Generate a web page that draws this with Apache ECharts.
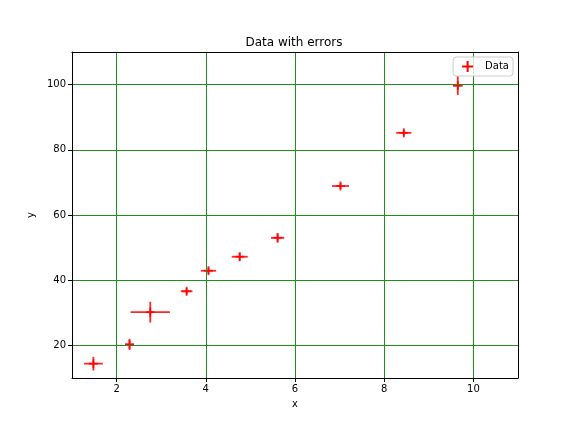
<!DOCTYPE html>
<html><head><meta charset="utf-8">
<script src="https://cdn.jsdelivr.net/npm/echarts@6/dist/echarts.min.js"></script>
<style>html,body{margin:0;padding:0;background:#fff}#c{width:576px;height:432px}</style>
</head><body><div id="c"></div>
<script>
const xValues = [1.48, 2.29, 2.755, 3.57, 4.06, 4.76, 5.61, 7.02, 8.44, 9.65];
const yValues = [14.4, 20.3, 30.2, 36.6, 42.9, 47.2, 53.0, 68.9, 85.2, 99.7];
const xErrors = [0.21, 0.10, 0.44, 0.13, 0.17, 0.18, 0.15, 0.19, 0.17, 0.11];
const yErrors = [2.1, 1.7, 3.2, 1.0, 1.0, 1.2, 1.4, 0.9, 0.9, 2.9];
const seriesName = 'Data';
const titleText = 'Data with errors';

const data = xValues.map((x, i) => [x, yValues[i], xErrors[i], yErrors[i]]);
const red = '#ff0000';
const gridGreen = '#1f8f1f';
const font = 'DejaVu Sans';

const hiddenAxis = (pos) => ({
  type: 'value', position: pos, min: pos === 'top' ? 1 : 10, max: pos === 'top' ? 11 : 110,
  axisLine: {show: true, onZero: false, lineStyle: {color: '#000', width: 1}},
  axisTick: {show: false}, axisLabel: {show: false}, splitLine: {show: false}, z: 10
});

const chart = echarts.init(document.getElementById('c'), null, {renderer: 'canvas'});
chart.setOption({
  animation: false,
  backgroundColor: '#fff',
  textStyle: {fontFamily: font},
  title: {
    text: titleText, left: 289, top: 32, textAlign: 'center',
    textStyle: {fontFamily: font, fontSize: 12, fontWeight: 'normal', color: '#000'}
  },
  legend: {
    data: [{name: seriesName, icon: 'path://M4.5,0 L6.5,0 L6.5,4.5 L11,4.5 L11,6.5 L6.5,6.5 L6.5,11 L4.5,11 L4.5,6.5 L0,6.5 L0,4.5 L4.5,4.5 Z'}],
    right: 63, top: 57, itemWidth: 11, itemHeight: 11, itemGap: 5,
    padding: [4, 4, 4, 9], borderColor: '#cccccc', borderWidth: 1, borderRadius: 3,
    backgroundColor: 'rgba(255,255,255,0.8)', z: 20,
    textStyle: {fontFamily: font, fontSize: 10, color: '#000', padding: [0, 0, 0, 7]}
  },
  grid: {left: 72, right: 58, top: 52, bottom: 54, show: false},
  xAxis: [{
    type: 'value', min: 1, max: 11, splitNumber: 5,
    name: 'x', nameLocation: 'middle', nameGap: 21,
    nameTextStyle: {fontFamily: font, fontSize: 10, color: '#000'},
    axisLine: {show: true, onZero: false, lineStyle: {color: '#000'}},
    axisTick: {show: true, length: 4, lineStyle: {color: '#000'}},
    axisLabel: {showMinLabel: false, showMaxLabel: false, fontFamily: font, fontSize: 10, color: '#000', margin: 6},
    splitLine: {show: true, lineStyle: {color: gridGreen, width: 1}}, z: 10
  }, hiddenAxis('top')],
  yAxis: [{
    type: 'value', min: 10, max: 110, splitNumber: 5,
    name: 'y', nameLocation: 'middle', nameGap: 30,
    nameTextStyle: {fontFamily: font, fontSize: 10, color: '#000'},
    axisLine: {show: true, onZero: false, lineStyle: {color: '#000'}},
    axisTick: {show: true, length: 4, lineStyle: {color: '#000'}},
    axisLabel: {showMinLabel: false, showMaxLabel: false, fontFamily: font, fontSize: 10, color: '#000', margin: 6},
    splitLine: {show: true, lineStyle: {color: gridGreen, width: 1}}, z: 10
  }, hiddenAxis('right')],
  series: [{
    name: seriesName,
    type: 'custom',
    xAxisIndex: 0, yAxisIndex: 0,
    itemStyle: {color: red},
    data: data,
    encode: {x: 0, y: 1},
    z: 5,
    renderItem: function (params, api) {
      const x = api.value(0), y = api.value(1), xe = api.value(2), ye = api.value(3);
      const c = api.coord([x, y]);
      const l = api.coord([x - xe, y]), r = api.coord([x + xe, y]);
      const b = api.coord([x, y - ye]), t = api.coord([x, y + ye]);
      const st = {stroke: red, lineWidth: 1.8, opacity: 0.85};
      const m = 4.5;
      return {
        type: 'group',
        children: [
          {type: 'line', shape: {x1: l[0], y1: l[1], x2: r[0], y2: r[1]}, style: st},
          {type: 'line', shape: {x1: b[0], y1: b[1], x2: t[0], y2: t[1]}, style: st},
          {type: 'line', shape: {x1: c[0] - m, y1: c[1], x2: c[0] + m, y2: c[1]}, style: st},
          {type: 'line', shape: {x1: c[0], y1: c[1] - m, x2: c[0], y2: c[1] + m}, style: st}
        ]
      };
    }
  }]
});
</script></body></html>
